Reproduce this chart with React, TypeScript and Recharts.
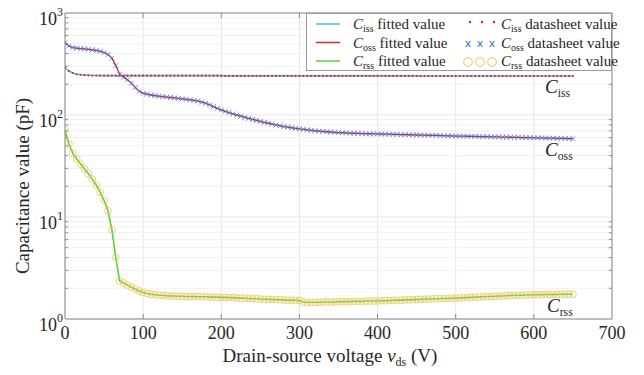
import {
  CartesianGrid,
  Line,
  LineChart,
  ReferenceLine,
  XAxis,
  YAxis,
} from "recharts";

// drain-source voltage grid (V)
const vds = [
  0, 5, 10, 15, 20, 25, 30, 35, 40, 45, 50, 55, 60, 65, 70, 75, 80, 85, 90, 95,
  100, 105, 110, 115, 120, 125, 130, 135, 140, 145, 150, 155, 160, 165, 170, 175,
  180, 185, 190, 195, 200, 205, 210, 215, 220, 225, 230, 235, 240, 245, 250, 255,
  260, 265, 270, 275, 280, 285, 290, 295, 300, 305, 310, 315, 320, 325, 330, 335,
  340, 345, 350, 355, 360, 365, 370, 375, 380, 385, 390, 395, 400, 405, 410, 415,
  420, 425, 430, 435, 440, 445, 450, 455, 460, 465, 470, 475, 480, 485, 490, 495,
  500, 505, 510, 515, 520, 525, 530, 535, 540, 545, 550, 555, 560, 565, 570, 575,
  580, 585, 590, 595, 600, 605, 610, 615, 620, 625, 630, 635, 640, 645, 650,
];

// capacitances (pF)
const ciss = [
  290, 270, 258, 251, 248, 246, 245, 244, 244, 243.5, 243,
  243, 243, 243, 243, 243, 243, 243, 243, 243, 243, 243, 243, 243, 243, 243,
  243, 243, 243, 243, 243, 243, 243, 243, 243, 243, 243, 243, 243, 243, 243,
  242, 242, 242, 242, 242, 242, 242, 242, 242, 242, 242, 242, 242, 242, 242,
  242, 242, 242, 242, 242, 242, 242, 242, 242, 242, 242, 242, 242, 242, 242,
  242, 242, 242, 242, 242, 242, 242, 242, 242, 242, 242, 242, 242, 242, 242,
  242, 242, 242, 242, 242,
  241, 241, 241, 241, 241, 241, 241, 241, 241, 241, 241, 241, 241, 241, 241,
  241, 241, 241, 241, 241, 241, 241, 241, 241, 241, 241, 241, 241, 241, 241,
  241, 241, 241, 241, 241, 241, 241, 241, 241, 241,
];

const coss = [
  510, 475, 458, 452, 448, 444, 440, 435, 429, 421, 410, 392, 362, 305, 250, 235,
  222, 205, 186, 171, 163,
  160, 157, 155, 153, 151.5, 150, 148.5, 147, 145.5, 144, 142.5, 141, 139, 137,
  134, 130, 126, 121, 116, 112,
  108.5, 105.5, 102.5, 100, 97.5, 95, 92.5, 90.5, 88.5, 86.5, 84.5, 83, 81.5, 80,
  78.5, 77, 76, 75, 74, 73,
  72.2, 71.4, 70.7, 70.1, 69.5, 69, 68.5, 68.1, 67.7, 67.3, 67, 66.7, 66.4, 66.2,
  66, 65.8, 65.6, 65.5, 65.3, 65.2,
  65.1, 64.9, 64.8, 64.6, 64.5, 64.3, 64.2, 64, 63.9, 63.7, 63.6, 63.4, 63.3, 63.1,
  63, 62.8, 62.7, 62.5, 62.4, 62.2,
  62.1, 62, 61.9, 61.8, 61.6, 61.5, 61.4, 61.3, 61.1, 61, 60.9, 60.8, 60.6, 60.5,
  60.4, 60.3, 60.1, 60, 59.9, 59.8,
  59.7, 59.6, 59.4, 59.3, 59.2, 59.1, 59, 58.9, 58.7, 58.6,
];

const crss = [
  71, 52, 42, 37, 33, 29.5, 26.5, 23.5, 20.5, 17.5, 14.5, 11.5, 7.5, 4, 2.35, 2.25,
  2.15, 2.05, 1.96, 1.88, 1.82,
  1.78, 1.75, 1.73, 1.71, 1.7, 1.69, 1.68, 1.68, 1.67, 1.67, 1.66, 1.66, 1.66, 1.65,
  1.65, 1.65, 1.64, 1.64, 1.64, 1.63,
  1.63, 1.62, 1.62, 1.61, 1.6, 1.6, 1.59, 1.58, 1.58, 1.57, 1.56, 1.56, 1.55, 1.55,
  1.54, 1.54, 1.53, 1.53, 1.52, 1.52,
  1.46, 1.46, 1.46, 1.46, 1.46, 1.47, 1.47, 1.47, 1.47, 1.48, 1.48, 1.48, 1.48, 1.49,
  1.49, 1.49, 1.5, 1.5, 1.5, 1.5,
  1.51, 1.51, 1.52, 1.52, 1.53, 1.53, 1.54, 1.54, 1.55, 1.55, 1.56, 1.56, 1.57, 1.57,
  1.58, 1.58, 1.59, 1.59, 1.6, 1.6,
  1.61, 1.62, 1.62, 1.63, 1.64, 1.64, 1.65, 1.66, 1.66, 1.67, 1.68, 1.68, 1.69, 1.7,
  1.7, 1.71, 1.71, 1.72, 1.72, 1.73,
  1.73, 1.73, 1.74, 1.74, 1.74, 1.74, 1.75, 1.75, 1.75, 1.75,
];

const xTicks = [0, 100, 200, 300, 400, 500, 600, 700];
const yTicks = [1, 10, 100, 1000];
const yTickExp = ["0", "1", "2", "3"];
const minorY = [2, 3, 4, 5, 6, 7, 8, 9, 20, 30, 40, 50, 60, 70, 80, 90, 200, 300, 400, 500, 600, 700, 800, 900];

const data = vds.map((v, i) => ({ vds: v, ciss: ciss[i], coss: coss[i], crss: crss[i] }));

const SERIF = "Liberation Serif, DejaVu Serif, Times New Roman, serif";
const serif = { fontFamily: SERIF };
const INK = "#262626";
const AXIS = "#8a8a8a";
const C_ISS = "#4dbeee";
const C_OSS = "#d9262b";
const C_RSS = "#5fcf3f";
const DOT_RED = "#ee1c1c";
const X_BLUE = "#2f6fe0";
const O_YEL = "#efc456";

const RedDot = (p: any) =>
  p.cx == null ? null : <circle key={p.key} cx={p.cx} cy={p.cy} r={1.1} fill={DOT_RED} />;

const BlueX = (p: any) => {
  if (p.cx == null) return null;
  const s = 2.4;
  return (
    <path
      key={p.key}
      d={`M${p.cx - s},${p.cy - s}L${p.cx + s},${p.cy + s}M${p.cx + s},${p.cy - s}L${p.cx - s},${p.cy + s}`}
      stroke={X_BLUE}
      strokeOpacity={0.75}
      strokeWidth={1}
    />
  );
};

const YellowO = (p: any) =>
  p.cx == null ? null : (
    <circle key={p.key} cx={p.cx} cy={p.cy} r={3.4} fill="none" stroke={O_YEL} strokeOpacity={0.8} strokeWidth={1} />
  );

const XTick = ({ x, y, payload }: any) => (
  <text x={x} y={y + 20} textAnchor="middle" style={serif} fontSize={18} fill={INK}>
    {payload.value}
  </text>
);

const YTick = ({ x, y, payload }: any) => {
  const i = yTicks.indexOf(payload.value);
  return (
    <text x={x} y={y + 12} textAnchor="end" style={serif} fontSize={18} fill={INK}>
      10
      <tspan dy={-9} fontSize={12}>
        {yTickExp[i]}
      </tspan>
    </text>
  );
};

function Cap({ x, y, sub, size }: { x: number; y: number; sub: string; size: number }) {
  return (
    <text x={x} y={y} style={serif} fontSize={size} fill={INK}>
      <tspan fontStyle="italic">C</tspan>
      <tspan fontSize={size * 0.62} dy={size * 0.2}>
        {sub}
      </tspan>
    </text>
  );
}

function LegendRow({ y, color, sub, marker }: { y: number; color: string; sub: string; marker: string }) {
  const mx = [468, 480, 492];
  return (
    <g>
      <line x1={316} x2={340} y1={y} y2={y} stroke={color} strokeWidth={1.5} />
      <text x={353} y={y + 5} style={serif} fontSize={15} fill={INK}>
        <tspan fontStyle="italic">C</tspan>
        <tspan fontSize={10} dy={3}>{sub}</tspan>
        <tspan dy={-3}> fitted value</tspan>
      </text>
      {mx.map((x) =>
        marker === "dot" ? (
          <circle key={x} cx={x + 2} cy={y - 2} r={1.2} fill={DOT_RED} />
        ) : marker === "x" ? (
          <text key={x} x={x} y={y + 4} textAnchor="middle" style={{ fontFamily: "DejaVu Sans, sans-serif" }} fontSize={11} fill={X_BLUE}>
            x
          </text>
        ) : (
          <circle key={x} cx={x} cy={y + 1} r={4.3} fill="none" stroke={O_YEL} strokeWidth={1} />
        )
      )}
      <text x={501} y={y + 5} style={serif} fontSize={15} fill={INK}>
        <tspan fontStyle="italic">C</tspan>
        <tspan fontSize={10} dy={3}>{sub}</tspan>
        <tspan dy={-3}> datasheet value</tspan>
      </text>
    </g>
  );
}

export default function App() {
  return (
    <div style={{ position: "absolute", left: 0, top: 0, width: 644, height: 375, background: "#fff", fontFamily: SERIF }}>
      <LineChart width={644} height={375} data={data} margin={{ top: 13, right: 32, bottom: 26, left: 0 }}>
        <CartesianGrid stroke="#e6e6e6" strokeWidth={1} />
        {minorY.map((v) => (
          <ReferenceLine key={"m" + v} y={v} stroke="#f1f1f1" strokeWidth={1} />
        ))}
        <XAxis
          dataKey="vds"
          type="number"
          domain={[0, 700]}
          ticks={xTicks}
          tick={<XTick />}
          tickLine={false}
          tickSize={0}
          tickMargin={0}
          height={30}
          stroke={AXIS}
          allowDataOverflow
        />
        <YAxis
          type="number"
          scale="log"
          domain={[1, 1000]}
          ticks={yTicks}
          tick={<YTick />}
          tickLine={false}
          tickSize={0}
          tickMargin={2}
          width={65}
          stroke={AXIS}
          allowDataOverflow
        />
        <ReferenceLine x={700} stroke={AXIS} />
        <ReferenceLine y={1000} stroke={AXIS} />
        {xTicks.slice(1, -1).map((v) => (
          <ReferenceLine key={"xb" + v} segment={[{ x: v, y: 1 }, { x: v, y: 1.12 }]} stroke={AXIS} />
        ))}
        {xTicks.slice(1, -1).map((v) => (
          <ReferenceLine key={"xt" + v} segment={[{ x: v, y: 1000 }, { x: v, y: 893 }]} stroke={AXIS} />
        ))}
        {minorY.map((v) => (
          <ReferenceLine key={"yl" + v} segment={[{ x: 0, y: v }, { x: 4, y: v }]} stroke={AXIS} />
        ))}
        {minorY.map((v) => (
          <ReferenceLine key={"yr" + v} segment={[{ x: 696, y: v }, { x: 700, y: v }]} stroke={AXIS} />
        ))}

        <Line dataKey="crss" stroke="none" dot={YellowO} activeDot={false} isAnimationActive={false} />
        <Line dataKey="crss" stroke={C_RSS} strokeWidth={1.6} dot={false} activeDot={false} isAnimationActive={false} type="linear" />
        <Line dataKey="coss" stroke="none" dot={BlueX} activeDot={false} isAnimationActive={false} />
        <Line dataKey="coss" stroke={C_OSS} strokeWidth={1.3} dot={false} activeDot={false} isAnimationActive={false} type="linear" />
        <Line dataKey="ciss" stroke={C_ISS} strokeWidth={1.6} dot={false} activeDot={false} isAnimationActive={false} type="linear" />
        <Line dataKey="ciss" stroke="none" dot={RedDot} activeDot={false} isAnimationActive={false} />
      </LineChart>

      <svg width={644} height={375} style={{ position: "absolute", left: 0, top: 0, pointerEvents: "none" }}>
        <rect x={306.5} y={13.5} width={305} height={57} fill="#fff" stroke="#9a9a9a" strokeWidth={1} />
        <LegendRow y={24} color={C_ISS} sub="iss" marker="dot" />
        <LegendRow y={42.5} color={C_OSS} sub="oss" marker="x" />
        <LegendRow y={61} color={C_RSS} sub="rss" marker="o" />

        <Cap x={545} y={93} sub="iss" size={19} />
        <Cap x={545} y={156} sub="oss" size={19} />
        <Cap x={547} y={312} sub="rss" size={19} />

        <text x={330} y={362} textAnchor="middle" style={serif} fontSize={19} fill={INK}>
          Drain-source voltage <tspan fontStyle="italic">v</tspan>
          <tspan fontSize={12} dy={4}>ds</tspan>
          <tspan dy={-4}> (V)</tspan>
        </text>
        <text
          x={29}
          y={186}
          transform="rotate(-90 29 186)"
          textAnchor="middle"
          style={serif}
          fontSize={19}
          fill={INK}
        >
          Capacitance value (pF)
        </text>
      </svg>
    </div>
  );
}
